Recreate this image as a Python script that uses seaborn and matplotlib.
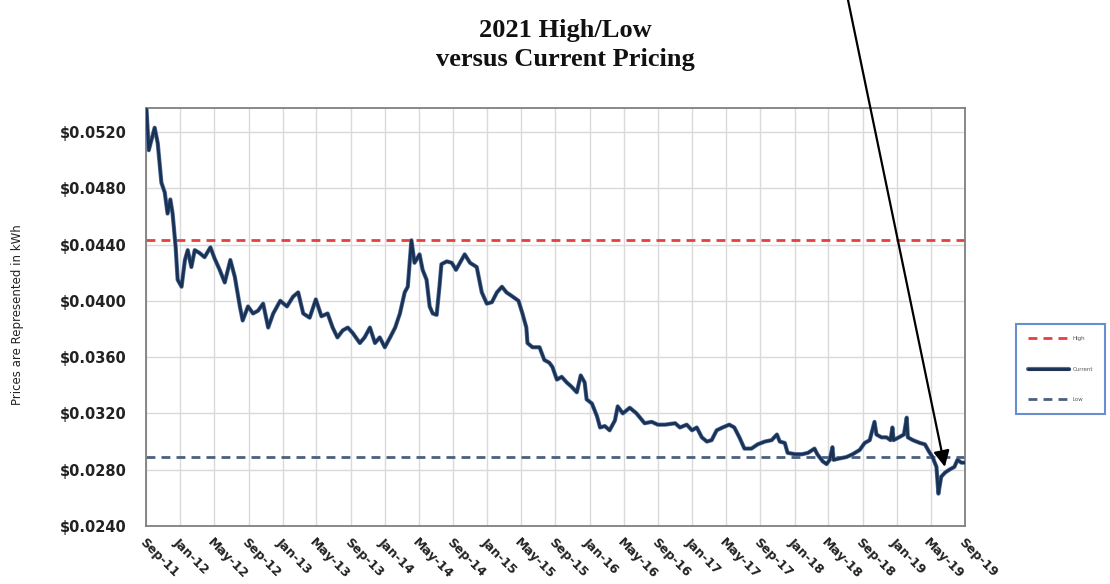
import matplotlib
matplotlib.use("Agg")
import matplotlib.pyplot as plt
import matplotlib.transforms as mtransforms
import matplotlib.patheffects as pe
import numpy as np
import pandas as pd
import seaborn as sns


# price readings (USD per kWh)
DATES = [
    "2011-09-03", "2011-09-11", "2011-09-24", "2011-10-02", "2011-10-13", "2011-10-26",
    "2011-11-07", "2011-11-17", "2011-11-27", "2011-12-05", "2011-12-16", "2011-12-23",
    "2012-01-06", "2012-01-18", "2012-01-28", "2012-02-10", "2012-02-22", "2012-03-10",
    "2012-03-28", "2012-04-18", "2012-05-03", "2012-05-21", "2012-06-08", "2012-06-28",
    "2012-07-14", "2012-08-01", "2012-08-11", "2012-08-30", "2012-09-17", "2012-10-05",
    "2012-10-23", "2012-11-10", "2012-11-28", "2012-12-23", "2013-01-16", "2013-02-07",
    "2013-02-25", "2013-03-15", "2013-04-07", "2013-04-29", "2013-05-19", "2013-06-10",
    "2013-06-28", "2013-07-15", "2013-08-03", "2013-08-21", "2013-09-08", "2013-10-03",
    "2013-10-20", "2013-11-08", "2013-11-26", "2013-12-13", "2013-12-31", "2014-01-19",
    "2014-02-06", "2014-02-23", "2014-03-12", "2014-03-23", "2014-04-05", "2014-04-16",
    "2014-05-04", "2014-05-15", "2014-05-29", "2014-06-09", "2014-06-20", "2014-07-04",
    "2014-07-14", "2014-07-21", "2014-08-09", "2014-08-27", "2014-09-11", "2014-09-25",
    "2014-10-12", "2014-10-31", "2014-11-24", "2014-12-12", "2014-12-30", "2015-01-17",
    "2015-02-04", "2015-02-22", "2015-03-10", "2015-04-01", "2015-04-22", "2015-05-06",
    "2015-05-20", "2015-05-24", "2015-06-11", "2015-07-06", "2015-07-23", "2015-08-10",
    "2015-08-21", "2015-09-06", "2015-09-23", "2015-10-11", "2015-10-28", "2015-11-16",
    "2015-11-30", "2015-12-14", "2015-12-21", "2016-01-09", "2016-01-27", "2016-02-07",
    "2016-02-24", "2016-03-12", "2016-03-31", "2016-04-10", "2016-04-28", "2016-05-23",
    "2016-06-16", "2016-07-15", "2016-08-09", "2016-08-31", "2016-09-26", "2016-11-01",
    "2016-11-18", "2016-12-12", "2016-12-31", "2017-01-17", "2017-02-04", "2017-02-22",
    "2017-03-11", "2017-03-29", "2017-04-19", "2017-05-13", "2017-05-31", "2017-06-18",
    "2017-07-06", "2017-07-31", "2017-08-22", "2017-09-17", "2017-10-11", "2017-10-30",
    "2017-11-09", "2017-11-27", "2017-12-07", "2018-01-03", "2018-01-28", "2018-02-18",
    "2018-03-13", "2018-03-23", "2018-04-11", "2018-04-25", "2018-05-06", "2018-05-16",
    "2018-05-20", "2018-06-10", "2018-07-05", "2018-07-27", "2018-08-21", "2018-09-08",
    "2018-09-26", "2018-10-13", "2018-10-20", "2018-11-07", "2018-11-25", "2018-12-09",
    "2018-12-16", "2018-12-20", "2019-01-08", "2019-01-26", "2019-02-05", "2019-02-09",
    "2019-02-27", "2019-03-24", "2019-04-11", "2019-04-25", "2019-05-08", "2019-05-22",
    "2019-05-29", "2019-06-08", "2019-06-22", "2019-07-07", "2019-07-25", "2019-08-05",
    "2019-08-19", "2019-08-30",
]

CURRENT = [
    0.0536, 0.0507, 0.0517, 0.0523, 0.0512, 0.0484,
    0.0477, 0.0462, 0.0472, 0.0462, 0.0438, 0.0415,
    0.0410, 0.0429, 0.0436, 0.0424, 0.0436, 0.0434,
    0.0431, 0.0438, 0.0430, 0.0422, 0.0413, 0.0429,
    0.0417, 0.0396, 0.0386, 0.0396, 0.0391, 0.0393,
    0.0398, 0.0381, 0.0391, 0.0400, 0.0396, 0.0403,
    0.0406, 0.0391, 0.0388, 0.0401, 0.0389, 0.0391,
    0.0381, 0.0374, 0.0379, 0.0381, 0.0377, 0.0370,
    0.0374, 0.0381, 0.0370, 0.0374, 0.0367, 0.0374,
    0.0381, 0.0391, 0.0406, 0.0410, 0.0443, 0.0427,
    0.0433, 0.0422, 0.0415, 0.0396, 0.0391, 0.0390,
    0.0410, 0.0426, 0.0428, 0.0427, 0.0422, 0.0427,
    0.0433, 0.0427, 0.0424, 0.0406, 0.0398, 0.0399,
    0.0406, 0.0410, 0.0406, 0.0403, 0.0400, 0.0391,
    0.0381, 0.0370, 0.0367, 0.0367, 0.0358, 0.0356,
    0.0353, 0.0344, 0.0346, 0.0342, 0.0339, 0.0335,
    0.0347, 0.0342, 0.0330, 0.0327, 0.0318, 0.0310,
    0.0311, 0.0308, 0.0315, 0.0325, 0.0320, 0.0324,
    0.0320, 0.0313, 0.0314, 0.0312, 0.0312, 0.0313,
    0.0310, 0.0312, 0.0308, 0.0310, 0.0303, 0.0300,
    0.0301, 0.0308, 0.0310, 0.0312, 0.0310, 0.0303,
    0.0295, 0.0295, 0.0298, 0.0300, 0.0301, 0.0305,
    0.0300, 0.0299, 0.0292, 0.0291, 0.0291, 0.0292,
    0.0295, 0.0291, 0.0286, 0.0284, 0.0287, 0.0296,
    0.0287, 0.0288, 0.0289, 0.0291, 0.0294, 0.0299,
    0.0301, 0.0314, 0.0305, 0.0303, 0.0303, 0.0301,
    0.0310, 0.0301, 0.0303, 0.0305, 0.0317, 0.0303,
    0.0301, 0.0299, 0.0298, 0.0293, 0.0289, 0.0282,
    0.0263, 0.0275, 0.0278, 0.0280, 0.0282, 0.0287,
    0.0285, 0.0285,
]

HIGH_PRICE = 0.0443
LOW_PRICE = 0.0289

ARROW_DATE = "2019-06-21"
ARROW_PRICE = 0.0282

Y_TICKS = [0.0240, 0.0280, 0.0320, 0.0360, 0.0400, 0.0440, 0.0480, 0.0520]
X_START = "2011-09-01"
X_END = "2019-09-01"

TITLE = "2021 High/Low\nversus Current Pricing"
Y_LABEL = "Prices are Represented in kWh"


def build_chart():
    df = pd.DataFrame({"date": pd.to_datetime(DATES), "price": CURRENT})
    tick_dates = pd.date_range(X_START, X_END, freq="4MS")

    sns.set_theme(style="whitegrid")
    plt.rcParams["font.family"] = ["DejaVu Sans"]

    fig = plt.figure(figsize=(11.1, 5.84), dpi=100)
    ax = fig.add_axes([0.1315, 0.0993, 0.7379, 0.7158])

    high = ax.axhline(HIGH_PRICE, color="#e3413b", lw=2.0,
                      linestyle=(0, (3.2, 2.2)), label="High", zorder=2)
    low = ax.axhline(LOW_PRICE, color="#4c5f80", lw=2.0,
                     linestyle=(0, (3.2, 2.2)), label="Low", zorder=2)
    sns.lineplot(data=df, x="date", y="price", ax=ax, color="#1b3152",
                 lw=2.0, label="Current", zorder=3,
                 path_effects=[pe.Stroke(linewidth=3.0, foreground="#4f6f9f"), pe.Normal()])
    current = ax.get_lines()[-1]

    ax.set_xlim(pd.Timestamp(X_START), pd.Timestamp(X_END))
    ax.set_ylim(0.0240, 0.0537)

    ax.set_xticks(tick_dates)
    ax.set_xticklabels([d.strftime("%b-%y") for d in tick_dates], rotation=-45,
                       ha="left", va="top", rotation_mode="anchor",
                       fontsize=9, fontweight="bold", color="#222222")
    shift = mtransforms.ScaledTranslation(9 / 72, 0, fig.dpi_scale_trans)
    for label in ax.get_xticklabels():
        label.set_transform(label.get_transform() + shift)

    ax.set_yticks(Y_TICKS)
    ax.set_yticklabels([f"${v:.4f}" for v in Y_TICKS], fontsize=10.5,
                       fontweight="bold", color="#222222")
    ax.tick_params(axis="both", length=0)
    ax.tick_params(axis="x", pad=7)
    ax.tick_params(axis="y", pad=14)

    ax.set_xlabel("")
    ax.set_ylabel("")
    ax.grid(True, color="#dadada", lw=1.0)
    ax.set_facecolor("white")
    for spine in ax.spines.values():
        spine.set_color("#7f7f7f")
        spine.set_linewidth(1.3)

    fig.text(0.509, 0.923, TITLE, ha="center", va="center", family="Liberation Serif",
             fontweight="bold", fontsize=19, linespacing=1.3, color="#111111")
    fig.text(18 / 1110, 0.4606, Y_LABEL, rotation=90, ha="center", va="center",
             fontsize=8.5, color="#222222")

    ax.annotate("", xy=(pd.Timestamp(ARROW_DATE), ARROW_PRICE), xycoords="data",
                xytext=(848 / 1110, 1.0), textcoords="figure fraction",
                arrowprops=dict(arrowstyle="-|>", color="black", lw=1.6,
                                mutation_scale=24, shrinkA=0, shrinkB=0),
                annotation_clip=False, zorder=5)

    if ax.get_legend() is not None:
        ax.get_legend().remove()
    leg = fig.legend([high, current, low], ["High", "Current", "Low"],
                     loc="center", bbox_to_anchor=(0.9554, 0.368),
                     fontsize=4, labelspacing=4.6, handlelength=7.5,
                     handletextpad=0.6, borderpad=2.2, fancybox=False,
                     frameon=True, labelcolor="#555555")
    leg.get_frame().set_edgecolor("#4472c4")
    leg.get_frame().set_linewidth(1.5)

    fig.savefig("out.png", dpi=100)
    plt.close(fig)


if __name__ == "__main__":
    build_chart()
